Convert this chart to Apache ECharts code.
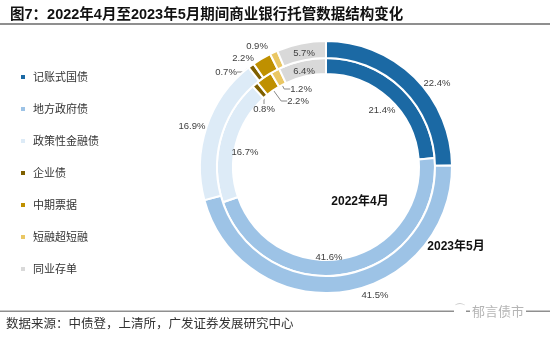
<!DOCTYPE html>
<html><head><meta charset="utf-8">
<script src="https://cdn.jsdelivr.net/npm/echarts@6/dist/echarts.min.js"></script>
<style>html,body{margin:0;padding:0;background:#fff}#c{width:550px;height:337px}</style>
</head><body><div id="c"></div>
<script>
// ---- data ----
const categories = ['记账式国债','地方政府债','政策性金融债','企业债','中期票据','短融超短融','同业存单'];
const periods = ['2022年4月','2023年5月'];
const values2022 = [21.4, 41.6, 16.7, 0.8, 2.2, 1.2, 6.4];
const values2023 = [22.4, 41.5, 16.9, 0.7, 2.2, 0.9, 5.7];
const titleText = '图7：2022年4月至2023年5月期间商业银行托管数据结构变化';
const sourceText = '数据来源：中债登，上清所，广发证券发展研究中心';

// ---- style ----
const colors = ['#1B69A4','#9DC3E6','#DDEBF7','#7F6000','#BF9000','#EAC764','#D9D9D9'];
const CX = 326, CY = 167;
// label anchor positions (styling only)
const labelPos2022 = [[382,110],[329,257],[245,152],[264,109],[298,101],[301,89],[304,71]];
const labelPos2023 = [[437,83],[375,295],[192,126],[226,72],[243,58],[257,46],[304,53]];
const lineItems2022 = [3,4,5];
const lineItems2023 = [3];

function buildData(vals, lineItems){
  return categories.map((n,i)=>({
    name:n, value:vals[i],
    label:{position: lineItems.indexOf(i)>=0 ? 'outside':'inside'},
    labelLine:{show: lineItems.indexOf(i)>=0, length:6, length2:6, lineStyle:{color:'#888',width:1}}
  }));
}
const lblStyle = {show:true, color:'#404040', fontSize:9.5, fontFamily:'Liberation Sans, Arial, sans-serif',
  formatter:p=>p.value.toFixed(1)+'%'};

const chart = echarts.init(document.getElementById('c'), null, {renderer:'canvas'});
chart.setOption({
  animation:false,
  color:colors,
  title:{text:titleText, left:5, top:3,
    textStyle:{fontSize:14.5, fontWeight:'bold', color:'#111', fontFamily:'Liberation Sans, Noto Sans CJK SC, sans-serif'}},
  legend:{orient:'vertical', left:14, top:66, itemWidth:6, itemHeight:6, itemGap:20, icon:'rect',
    data:categories,
    textStyle:{fontSize:11, color:'#333', lineHeight:12, fontFamily:'Noto Sans CJK SC, sans-serif', padding:[0,0,0,2]}},
  series:[
    {type:'pie', name:periods[0], center:[CX,CY], radius:[93,109], startAngle:90, clockwise:true,
     avoidLabelOverlap:false, silent:true,
     itemStyle:{borderColor:'#fff', borderWidth:2},
     label:lblStyle,
     labelLayout:function(p){const q=labelPos2022[p.dataIndex];return {x:q[0],y:q[1],align:'center',verticalAlign:'middle'};},
     data:buildData(values2022, lineItems2022)},
    {type:'pie', name:periods[1], center:[CX,CY], radius:[109,126], startAngle:90, clockwise:true,
     avoidLabelOverlap:false, silent:true,
     itemStyle:{borderColor:'#fff', borderWidth:2},
     label:lblStyle,
     labelLayout:function(p){const q=labelPos2023[p.dataIndex];return {x:q[0],y:q[1],align:'center',verticalAlign:'middle'};},
     data:buildData(values2023, lineItems2023)}
  ],
  graphic:[
    {type:'rect', shape:{x:0,y:23,width:550,height:2}, style:{fill:'#8f8f8f'}, silent:true},
    {type:'rect', shape:{x:0,y:310.5,width:550,height:1.5}, style:{fill:'#8f8f8f'}, silent:true},
    {type:'text', x:360, y:202, style:{text:periods[0], fontSize:12, fontWeight:'bold', fill:'#111', align:'center', verticalAlign:'middle', fontFamily:'Liberation Sans, Noto Sans CJK SC, sans-serif'}},
    {type:'text', x:456, y:247, style:{text:periods[1], fontSize:12, fontWeight:'bold', fill:'#111', align:'center', verticalAlign:'middle', fontFamily:'Liberation Sans, Noto Sans CJK SC, sans-serif'}},
    {type:'text', x:6, y:323, style:{text:sourceText, fontSize:12.5, fill:'#333', verticalAlign:'middle', fontFamily:'Noto Sans CJK SC, sans-serif'}},
    {type:'text', x:470, y:311, style:{text:'郁言债市', fontSize:13, fill:'#b5b5b5', verticalAlign:'middle', backgroundColor:'#fff', padding:[0,2], fontFamily:'Noto Sans CJK SC, sans-serif'}},
    {type:'text', x:454, y:310, style:{text:'⌒', fontSize:12, fill:'#c0c0c0', verticalAlign:'middle', backgroundColor:'#fff', fontFamily:'DejaVu Sans, sans-serif'}}
  ]
});
</script></body></html>
